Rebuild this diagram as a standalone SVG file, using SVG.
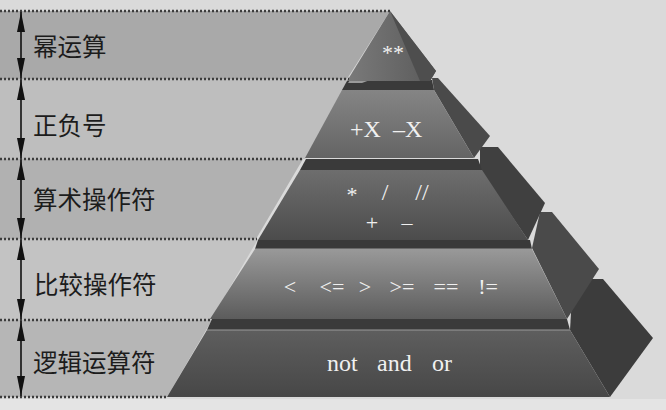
<svg xmlns="http://www.w3.org/2000/svg" width="666" height="410" viewBox="0 0 666 410">
<style>
.lbl{font-family:"Noto Sans CJK SC","Noto Sans CJK JP",sans-serif;font-size:24.5px;fill:#1c1c1c}
.op{font-family:"Liberation Serif","DejaVu Serif",serif;fill:#f0f0f0}
.dot{stroke:#3c3c3c;stroke-width:2.5;stroke-dasharray:2 2;fill:none}
.axis{stroke:#111;stroke-width:1.6;fill:none}
.top{fill:#3a3a3a}
.side{fill:#454545}
.edge{stroke:#9a9a9a;stroke-width:1;fill:none}
</style>
<defs>
<linearGradient id="g1" x1="0" y1="0" x2="1" y2="0">
<stop offset="0" stop-color="#7a7a7a"/><stop offset="1" stop-color="#5a5a5a"/>
</linearGradient>
<linearGradient id="g2" x1="0" y1="0" x2="0" y2="1">
<stop offset="0" stop-color="#858585"/><stop offset="1" stop-color="#646464"/>
</linearGradient>
<linearGradient id="g3" x1="0" y1="0" x2="0" y2="1">
<stop offset="0" stop-color="#6e6e6e"/><stop offset="1" stop-color="#4c4c4c"/>
</linearGradient>
<linearGradient id="g4" x1="0" y1="0" x2="0" y2="1">
<stop offset="0" stop-color="#999999"/><stop offset="1" stop-color="#5c5c5c"/>
</linearGradient>
<linearGradient id="g5" x1="0" y1="0" x2="0" y2="1">
<stop offset="0" stop-color="#5e5e5e"/><stop offset="1" stop-color="#474747"/>
</linearGradient>
<marker id="ah" viewBox="0 0 20 10" refX="20" refY="5" markerWidth="20" markerHeight="10" markerUnits="userSpaceOnUse" orient="auto-start-reverse">
<path d="M0,1 L20,5 L0,9 Z" fill="#111"/>
</marker>
</defs>
<rect width="666" height="410" fill="#dadada"/>
<rect x="0" y="399" width="666" height="11" fill="#e4e4e4"/>
<g id="bands">
<polygon points="0,11 390,11 347,79 0,79" fill="#a9a9a9"/>
<polygon points="0,79 350,79 305,159 0,159" fill="#bebebe"/>
<polygon points="0,159 303,159 256,239 0,239" fill="#b1b1b1"/>
<polygon points="0,239 258,239 211,320 0,320" fill="#c3c3c3"/>
<polygon points="0,320 212,320 167,397 0,397" fill="#b6b6b6"/>
</g>
<g id="pyramid">
<g id="tier5">
<polygon class="side" points="573,279 603,279 653,338 610,397 570,330" style="fill:#3c3c3c"/>
<polygon class="top" points="212,319 567,319 570,330 207,330"/>
<polygon points="207,330 570,330 610,397 167,397" fill="url(#g5)"/>
<line class="edge" x1="207" y1="330" x2="570" y2="330"/>
</g>
<g id="tier4">
<polygon class="side" points="540,212 552,212 599,269 567,319 532,248" style="fill:#4a4a4a"/>
<polygon class="top" points="258,240 530,240 532,249 255,249"/>
<polygon points="255,249 532,249 567,319 210,319" fill="url(#g4)"/>
<line class="edge" x1="255" y1="249" x2="532" y2="249"/>
</g>
<g id="tier3">
<polygon class="side" points="480,147 498,147 545,203 528,240 480,170" style="fill:#404040"/>
<polygon class="top" points="306,159 478,159 482,170 300,170"/>
<polygon points="300,170 482,170 528,240 258,240" fill="url(#g3)"/>
</g>
<g id="tier2">
<polygon class="side" points="432,78 438,78 490,136 474,158 434,90" style="fill:#4a4a4a"/>
<polygon class="top" points="347,81 432,80 434,90 342,90"/>
<polygon points="350,80 370,80 362,83 348,83" fill="#9a9a9a"/>
<polygon points="342,90 434,90 474,158 305,158" fill="url(#g2)"/>
</g>
<g id="tier1">
<polygon points="390,11 347,81 430,81 436,71" fill="url(#g1)"/>
<polygon points="390,11 436,71 430,81 420,81" fill="#4e4e4e"/>
</g>
</g>
<g id="dotted">
<line class="dot" x1="0" y1="11" x2="390" y2="11"/>
<line class="dot" x1="0" y1="79" x2="349" y2="79"/>
<line class="dot" x1="0" y1="159" x2="304" y2="159"/>
<line class="dot" x1="0" y1="239" x2="257" y2="239"/>
<line class="dot" x1="0" y1="320" x2="211" y2="320"/>
<line class="dot" x1="0" y1="397" x2="167" y2="397"/>
</g>
<g id="connectors">
<line class="axis" x1="21" y1="12" x2="21" y2="78" marker-start="url(#ah)" marker-end="url(#ah)"/>
<line class="axis" x1="21" y1="80" x2="21" y2="158" marker-start="url(#ah)" marker-end="url(#ah)"/>
<line class="axis" x1="21" y1="160" x2="21" y2="238" marker-start="url(#ah)" marker-end="url(#ah)"/>
<line class="axis" x1="21" y1="240" x2="21" y2="319" marker-start="url(#ah)" marker-end="url(#ah)"/>
<line class="axis" x1="21" y1="321" x2="21" y2="396" marker-start="url(#ah)" marker-end="url(#ah)"/>
</g>
<g id="labels">
<text class="lbl" x="33" y="56">幂运算</text>
<text class="lbl" x="33" y="135">正负号</text>
<text class="lbl" x="33" y="209">算术操作符</text>
<text class="lbl" x="34" y="294">比较操作符</text>
<text class="lbl" x="33" y="372">逻辑运算符</text>
</g>
<g id="operators">
<text class="op" x="393" y="60" font-size="22" text-anchor="middle">**</text>
<text class="op" x="350" y="137" font-size="24">+X</text>
<text class="op" x="393" y="137" font-size="24">–X</text>
<text class="op" x="352" y="202" font-size="22" text-anchor="middle">*</text>
<text class="op" x="385" y="200" font-size="24" text-anchor="middle">/</text>
<text class="op" x="422" y="200" font-size="24" text-anchor="middle">//</text>
<text class="op" x="372" y="230" font-size="22" text-anchor="middle">+</text>
<text class="op" x="407" y="230" font-size="22" text-anchor="middle">–</text>
<text class="op" x="290" y="294" font-size="22" text-anchor="middle">&lt;</text>
<text class="op" x="332" y="294" font-size="22" text-anchor="middle">&lt;=</text>
<text class="op" x="365" y="294" font-size="22" text-anchor="middle">&gt;</text>
<text class="op" x="402" y="294" font-size="22" text-anchor="middle">&gt;=</text>
<text class="op" x="446" y="294" font-size="22" text-anchor="middle">==</text>
<text class="op" x="488" y="294" font-size="22" text-anchor="middle">!=</text>
<text class="op" x="327" y="371" font-size="24">not</text>
<text class="op" x="377" y="371" font-size="24">and</text>
<text class="op" x="432" y="371" font-size="24">or</text>
</g>
</svg>
